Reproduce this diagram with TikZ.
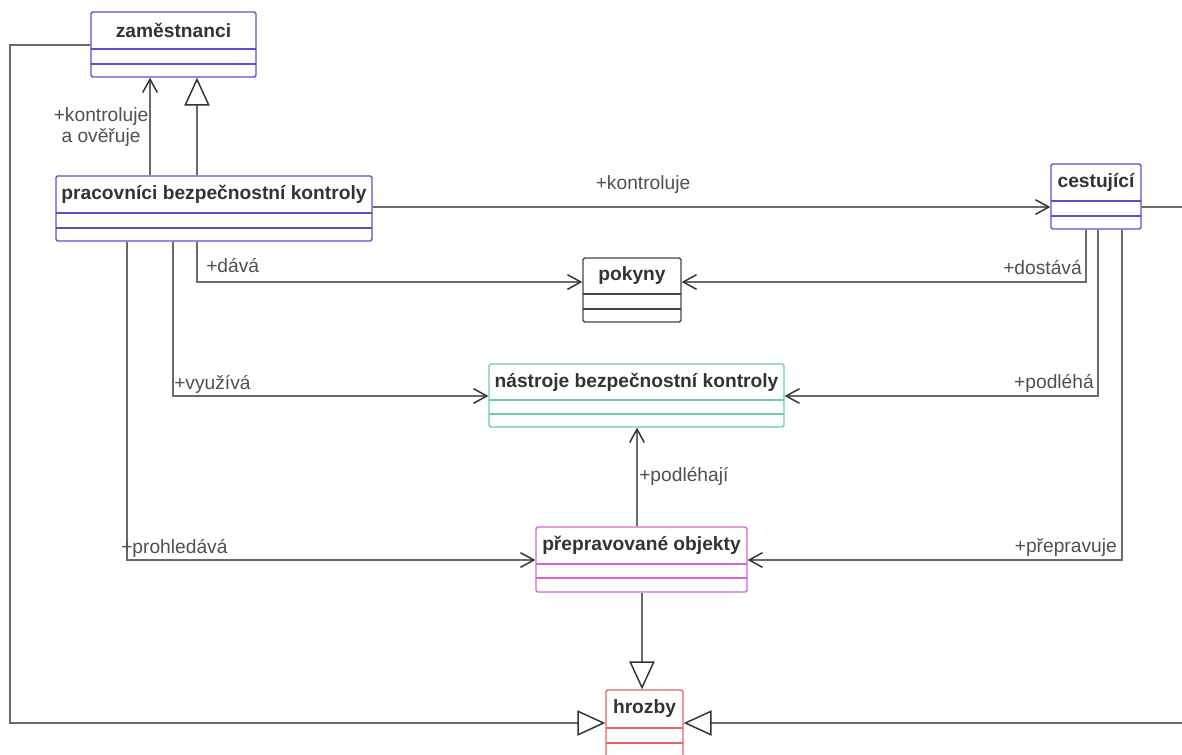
\documentclass[tikz,border=0pt]{standalone}
\usepackage{fontspec}
\setmainfont{Liberation Sans}
\usetikzlibrary{arrows.meta,fit}
\definecolor{lineg}{HTML}{6A6A6A}
\definecolor{tipc}{HTML}{333333}
\definecolor{txt}{HTML}{333333}
\definecolor{lbltxt}{HTML}{505050}
\definecolor{cblue}{HTML}{5A52C6}
\definecolor{cgreen}{HTML}{6CCFA8}
\definecolor{cmag}{HTML}{D466D4}
\definecolor{cred}{HTML}{E46666}
\definecolor{cblack}{HTML}{444444}
\tikzset{
  conn/.style={draw=lineg, line width=1.5pt},
  assoc/.style={conn, -{Straight Barb[length=10pt,width=11pt,line width=1.1pt,color=tipc]}},
  gen/.style={conn, -{Triangle[open,length=21pt,width=19pt,line width=1.1pt,color=tipc,fill=white]}},
  classtitle/.style={font=\bfseries\fontsize{14.4}{16}\selectfont, text=txt, inner sep=0pt},
  lbl/.style={font=\fontsize{14.4}{16}\selectfont, text=lbltxt, inner sep=0pt},
}
% class box: name, colour, x1, y1, x2, y2, first separator, second separator, title
\newcommand\umlclass[9]{%
  \node[fit={(#3,#4) (#5,#6)}, inner sep=0pt, draw=#2, line width=1pt, fill=white, rounded corners=1.2pt] (#1) {};
  \draw[#2, line width=1pt] (#3,#7) -- (#5,#7) (#3,#8) -- (#5,#8);
  \node[classtitle] (#1-t) at ({(#3+#5)/2},{(#4+#7)/2}) {#9};
}
\begin{document}
\begin{tikzpicture}[x=0.75pt,y=-0.75pt]
\clip (0,0) rectangle (1182,754);
\fill[white] (0,0) rectangle (1182,754);

% classes
\umlclass{zam}{cblue}{91}{12}{256}{77}{49}{64}{zaměstnanci}
\umlclass{prac}{cblue}{56}{176}{372}{241}{213}{228}{pracovníci bezpečnostní kontroly}
\umlclass{cest}{cblue}{1051}{164}{1141}{229}{201}{216}{cestující}
\umlclass{pok}{cblack}{583}{258}{681}{322}{294}{309}{pokyny}
\umlclass{nas}{cgreen}{489}{364}{784}{427}{400}{414}{nástroje bezpečnostní kontroly}
\umlclass{obj}{cmag}{536}{527}{747}{592}{564}{578}{přepravované objekty}
\umlclass{hro}{cred}{606}{690}{683}{775}{728}{743}{hrozby}

% lanes used by the connectors
\coordinate (xk) at (150,0);
\coordinate (xg) at (197,0);
\coordinate (xp) at (127,0);
\coordinate (xv) at (173,0);
\coordinate (xd) at (1086,0);
\coordinate (xl) at (1098,0);
\coordinate (xr) at (1122,0);
\coordinate (xs) at (637,0);
\coordinate (xh) at (642,0);
\coordinate (xleft) at (10,0);
\coordinate (xright) at (1195,0);
\coordinate (yk) at (0,207);
\coordinate (yd) at (0,282);
\coordinate (yv) at (0,396);
\coordinate (yp) at (0,560);
\coordinate (yh) at (0,723);

% pracovníci -> zaměstnanci
\draw[assoc] (prac.north -| xk) -- (zam.south -| xk);
\draw[gen] (prac.north -| xg) -- (zam.south -| xg);
\node[lbl, align=center] (l-kov) at (101,127) {+kontroluje\\[0pt]a ověřuje};

% pracovníci -> cestující
\draw[assoc] (prac.east |- yk) -- (cest.west |- yk);
\node[lbl] (l-kon) at (643,185) {+kontroluje};

% pokyny
\draw[assoc] (prac.south -| xg) |- (pok.west |- yd);
\node[lbl, anchor=west] (l-dava) at (206,266) {+dává};
\draw[assoc] (cest.south -| xd) |- (pok.east |- yd);
\node[lbl, anchor=east] (l-dost) at (1082,268) {+dostává};

% nástroje
\draw[assoc] (prac.south -| xv) |- (nas.west |- yv);
\node[lbl, anchor=west] (l-vyu) at (174,384) {+využívá};
\draw[assoc] (cest.south -| xl) |- (nas.east |- yv);
\node[lbl, anchor=east] (l-podl) at (1094,383) {+podléhá};
\draw[assoc] (obj.north -| xs) -- (nas.south -| xs);
\node[lbl, anchor=west] (l-podh) at (639,476) {+podléhají};

% přepravované objekty
\draw[assoc] (prac.south -| xp) |- (obj.west |- yp);
\node[lbl, anchor=west] (l-proh) at (121,548) {+prohledává};
\draw[assoc] (cest.south -| xr) |- (obj.east |- yp);
\node[lbl, anchor=east] (l-prep) at (1117,547) {+přepravuje};

% hrozby generalizations
\draw[gen] (obj.south -| xh) -- (hro.north -| xh);
\draw[gen] (zam.west) -| (xleft |- yh) -- (hro.west |- yh);
\draw[gen] (cest.east |- yk) -- (xright |- yk) -- (xright |- yh) -- (hro.east |- yh);
\end{tikzpicture}
\end{document}
